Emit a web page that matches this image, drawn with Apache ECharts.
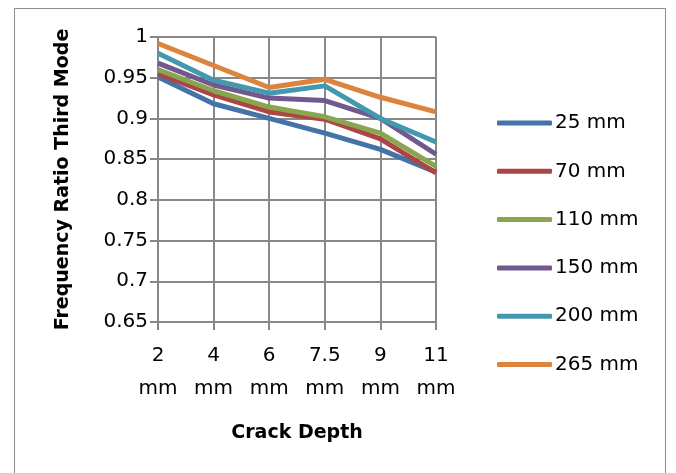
<!DOCTYPE html>
<html><head><meta charset="utf-8">
<script src="https://cdn.jsdelivr.net/npm/echarts@6/dist/echarts.min.js"></script>
<style>html,body{margin:0;padding:0;background:#fff}#c{width:676px;height:473px}</style>
</head><body><div id="c"></div>
<script>
var categories = ['2\nmm','4\nmm','6\nmm','7.5\nmm','9\nmm','11\nmm'];
var seriesNames = ['25 mm','70 mm','110 mm','150 mm','200 mm','265 mm'];
var s25  = [0.951, 0.918, 0.900, 0.882, 0.862, 0.834];
var s70  = [0.955, 0.929, 0.908, 0.899, 0.875, 0.833];
var s110 = [0.960, 0.934, 0.914, 0.902, 0.882, 0.841];
var s150 = [0.968, 0.941, 0.925, 0.922, 0.900, 0.856];
var s200 = [0.980, 0.947, 0.931, 0.940, 0.900, 0.871];
var s265 = [0.992, 0.965, 0.938, 0.948, 0.926, 0.908];
var yTicks = [0.65, 1, 0.05];
var colors = ['#4572A7','#AA4643','#89A54E','#71588F','#4198AF','#DB843D'];
var allData = [s25, s70, s110, s150, s200, s265];
var font = '"DejaVu Sans", sans-serif';

var chart = echarts.init(document.getElementById('c'), null, {renderer:'canvas'});
chart.setOption({
  animation: false,
  backgroundColor: '#fff',
  graphic: [{type:'rect', shape:{x:14.5,y:8.5,width:651,height:480}, style:{fill:'none', stroke:'#8c8c8c', lineWidth:1}, silent:true}],
  grid: {left:158, right:240, top:37, bottom:151, containLabel:false},
  legend: {
    orient:'vertical', left:492, top:108, itemWidth:55, itemHeight:5, itemGap:28.3,
    icon:'roundRect',
    textStyle:{fontFamily:font, fontSize:20, color:'#000', padding:[0,0,0,-2]},
    data: seriesNames
  },
  xAxis: {
    type:'category', data:categories, boundaryGap:false,
    name:'Crack Depth', nameLocation:'middle', nameGap:102,
    nameTextStyle:{fontFamily:font, fontSize:19, fontWeight:'bold', color:'#000'},
    axisLine:{show:true, lineStyle:{color:'#888', width:2}},
    axisTick:{show:true, length:8, alignWithLabel:true, lineStyle:{color:'#888', width:2}},
    axisLabel:{fontFamily:font, fontSize:20, color:'#000', lineHeight:33, margin:17, interval:0},
    splitLine:{show:true, lineStyle:{color:'#888', width:2}}
  },
  yAxis: {
    type:'value', min:yTicks[0], max:yTicks[1], interval:yTicks[2],
    name:'Frequency Ratio Third Mode', nameLocation:'middle', nameGap:85,
    nameTextStyle:{fontFamily:font, fontSize:19, fontWeight:'bold', color:'#000'},
    axisLine:{show:true, lineStyle:{color:'#888', width:2}},
    axisTick:{show:true, length:8, lineStyle:{color:'#888', width:2}},
    axisLabel:{fontFamily:font, fontSize:20, color:'#000', margin:10,
      formatter:function(v){return String(Math.round(v*100)/100);}},
    splitLine:{show:true, lineStyle:{color:'#888', width:2}}
  },
  series: seriesNames.map(function(n,i){
    return {name:n, type:'line', data:allData[i], symbol:'none', showSymbol:false,
      color:colors[i], lineStyle:{width:5, color:colors[i], join:'round'}, itemStyle:{color:colors[i]}};
  })
});
</script></body></html>
